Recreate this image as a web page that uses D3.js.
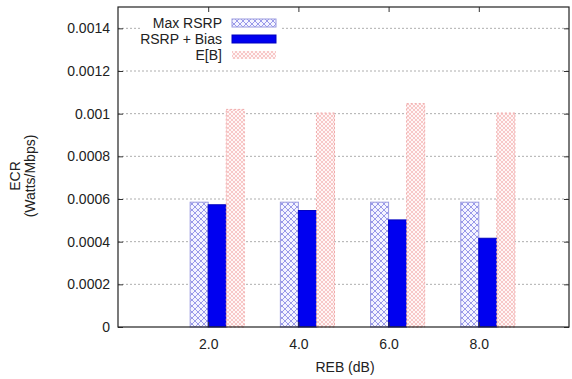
<!DOCTYPE html>
<html>
<head>
<meta charset="utf-8">
<script src="https://cdn.jsdelivr.net/npm/d3@7"></script>
<style>
  body { margin: 0; background: #fff; }
  text { font-family: "Liberation Sans", Arial, sans-serif; font-size: 14px; fill: #222; }
</style>
</head>
<body>
<svg id="chart" width="572" height="379"></svg>
<script>
const categories = ['2.0', '4.0', '6.0', '8.0'];
const maxRsrp = [0.000585, 0.000585, 0.000585, 0.000585];
const rsrpBias = [0.000573, 0.000546, 0.000502, 0.000416];
const expectedB = [0.00102, 0.001003, 0.001047, 0.001003];
const yTicks = [0, 0.0002, 0.0004, 0.0006, 0.0008, 0.001, 0.0012, 0.0014];
const seriesNames = ['Max RSRP', 'RSRP + Bias', 'E[B]'];

const svg = d3.select('#chart');
const plotL = 118, plotR = 569, plotT = 7, plotB = 327;

const x = d3.scaleLinear().domain([-1, 4]).range([plotL, plotR]);
const y = d3.scaleLinear().domain([0, 0.0015]).range([plotB, plotT]);
const barW = 0.2;

// patterns
const defs = svg.append('defs');
const hatch = defs.append('pattern')
  .attr('id', 'hatchBlue')
  .attr('patternUnits', 'userSpaceOnUse')
  .attr('width', 6).attr('height', 6);
hatch.append('rect').attr('width', 6).attr('height', 6).attr('fill', '#f4f4ff');
hatch.append('path').attr('d', 'M0,0 L6,6 M6,0 L0,6')
  .attr('stroke', '#8f8fe6').attr('stroke-width', 0.9);

const dots = defs.append('pattern')
  .attr('id', 'hatchPink')
  .attr('patternUnits', 'userSpaceOnUse')
  .attr('width', 4).attr('height', 4);
dots.append('rect').attr('width', 4).attr('height', 4).attr('fill', '#fff6f6');
dots.append('path').attr('d', 'M0,0 L4,4 M4,0 L0,4')
  .attr('stroke', '#f2aaaa').attr('stroke-width', 0.6);

const styles = [
  {fill: 'url(#hatchBlue)', stroke: '#9a9ae0', dash: null},
  {fill: '#0000f0', stroke: '#0000c0', dash: null},
  {fill: 'url(#hatchPink)', stroke: '#f0a8a8', dash: '2,2'}
];

// grid
svg.append('g')
  .selectAll('line')
  .data(yTicks.slice(1))
  .enter().append('line')
  .attr('x1', plotL).attr('x2', plotR)
  .attr('y1', d => y(d)).attr('y2', d => y(d))
  .attr('stroke', '#999')
  .attr('stroke-width', 0.8)
  .attr('stroke-dasharray', '2,2');

// bars
const series = [maxRsrp, rsrpBias, expectedB];
series.forEach((vals, s) => {
  svg.append('g')
    .selectAll('rect')
    .data(vals)
    .enter().append('rect')
    .attr('x', (d, i) => x(i + (s - 1) * barW))
    .attr('width', x(barW) - x(0))
    .attr('y', d => y(d))
    .attr('height', d => y(0) - y(d))
    .attr('fill', styles[s].fill)
    .attr('stroke', styles[s].stroke)
    .attr('stroke-width', 1)
    .attr('stroke-dasharray', styles[s].dash);
});

// axes
const yAxis = svg.append('g')
  .attr('transform', `translate(${plotL},0)`)
  .call(d3.axisLeft(y).tickValues(yTicks).tickSize(-5).tickPadding(8)
    .tickFormat(d => d === 0 ? '0' : String(+d.toFixed(4))));
yAxis.select('.domain').remove();

const yAxisR = svg.append('g')
  .attr('transform', `translate(${plotR},0)`)
  .call(d3.axisRight(y).tickValues(yTicks).tickSize(-5).tickFormat(''));
yAxisR.select('.domain').remove();

const xAxis = svg.append('g')
  .attr('transform', `translate(0,${plotB})`)
  .call(d3.axisBottom(x).tickValues([0, 1, 2, 3]).tickSize(-5).tickPadding(12)
    .tickFormat(i => categories[i]));
xAxis.select('.domain').remove();

const xAxisT = svg.append('g')
  .attr('transform', `translate(0,${plotT})`)
  .call(d3.axisTop(x).tickValues([0, 1, 2, 3]).tickSize(-5).tickFormat(''));
xAxisT.select('.domain').remove();

svg.selectAll('.tick line').attr('stroke', '#333');
svg.selectAll('.tick text').style('font-size', '14px').style('fill', '#222')
  .style('font-family', '"Liberation Sans", Arial, sans-serif');

// frame
svg.append('rect')
  .attr('x', plotL).attr('y', plotT)
  .attr('width', plotR - plotL).attr('height', plotB - plotT)
  .attr('fill', 'none').attr('stroke', '#222').attr('stroke-width', 1.2);

// axis titles
const yl = svg.append('text')
  .attr('transform', 'translate(20,176) rotate(-90)')
  .attr('text-anchor', 'middle');
yl.append('tspan').attr('x', 0).attr('dy', 0).text('ECR');
yl.append('tspan').attr('x', 0).attr('dy', 15).text('(Watts/Mbps)');

svg.append('text')
  .attr('x', 345).attr('y', 372)
  .attr('text-anchor', 'middle')
  .text('REB (dB)');

// legend (opaque, hides the top grid line behind it)
const legend = svg.append('g');
legend.append('rect')
  .attr('x', 140).attr('y', 12)
  .attr('width', 140).attr('height', 50)
  .attr('fill', '#fff');
seriesNames.forEach((name, s) => {
  const cy = 23 + s * 16;
  legend.append('rect')
    .attr('x', 232).attr('y', cy - 4)
    .attr('width', 44).attr('height', 8)
    .attr('fill', s === 1 ? '#0000f0' : (s === 2 ? '#fff' : styles[s].fill))
    .attr('stroke', s === 2 ? 'none' : styles[s].stroke);
  if (s === 2) {
    legend.append('rect')
      .attr('x', 232).attr('y', cy - 4)
      .attr('width', 44).attr('height', 8)
      .attr('fill', styles[s].fill);
  }
  legend.append('text')
    .attr('x', 222).attr('y', cy + 5)
    .attr('text-anchor', 'end')
    .text(name);
});
</script>
</body>
</html>
